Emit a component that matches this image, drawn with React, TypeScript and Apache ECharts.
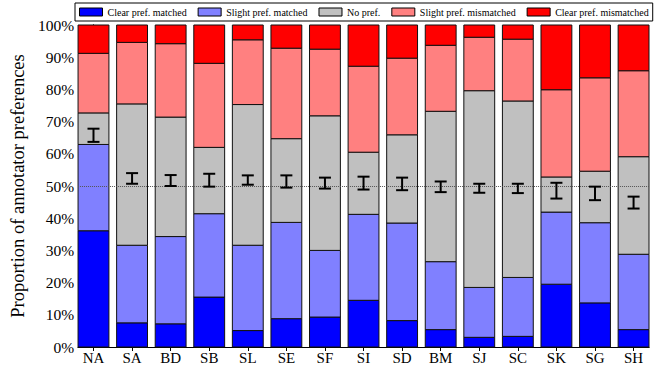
import React, { useEffect, useRef } from "react";
import * as echarts from "echarts";

const categories = ["NA", "SA", "BD", "SB", "SL", "SE", "SF", "SI", "SD", "BM", "SJ", "SC", "SK", "SG", "SH"];
const seriesNames = ["Clear pref. matched", "Slight pref. matched", "No pref.", "Slight pref. mismatched", "Clear pref. mismatched"];
const clearMatched = [36.1, 7.5, 7.2, 15.5, 5.1, 8.8, 9.3, 14.5, 8.2, 5.4, 3.0, 3.3, 19.5, 13.7, 5.4];
const slightMatched = [26.8, 24.1, 27.1, 25.9, 26.5, 29.9, 20.7, 26.7, 30.3, 21.1, 15.5, 18.3, 22.4, 24.9, 23.4];
const noPref = [9.8, 43.9, 37.1, 20.6, 43.7, 26.0, 41.8, 19.3, 27.4, 46.7, 61.1, 54.8, 10.9, 16.0, 30.3];
const slightMismatched = [18.5, 19.1, 22.8, 26.1, 20.1, 28.1, 20.7, 26.7, 23.8, 20.5, 16.6, 19.2, 27.1, 29.0, 26.7];
const clearMismatched = [8.8, 5.4, 5.8, 11.9, 4.6, 7.2, 7.5, 12.8, 10.3, 6.3, 3.8, 4.4, 20.1, 16.4, 14.2];
const errLow = [63.7, 50.7, 50.0, 49.8, 50.4, 49.5, 49.2, 48.9, 48.7, 48.1, 47.9, 47.8, 46.1, 45.6, 43.0];
const errHigh = [67.8, 54.0, 53.4, 53.8, 53.3, 53.3, 52.6, 52.9, 52.6, 51.4, 50.7, 50.7, 51.0, 49.8, 46.7];
const yTicks = [0, 10, 20, 30, 40, 50, 60, 70, 80, 90, 100];

const colors = ["#0000ff", "#8080ff", "#c0c0c0", "#ff8080", "#ff0000"];
const FONT = "Liberation Serif";

export default function App() {
  const ref = useRef<HTMLDivElement>(null);
  useEffect(() => {
    if (!ref.current) return;
    const chart = echarts.init(ref.current, null, { renderer: "svg" });
    const layers = [clearMatched, slightMatched, noPref, slightMismatched, clearMismatched];
    const cum = categories.map(() => 0);
    const barSeries = layers.map((vals, k) => {
      const data = vals.map((v, i) => {
        const s = cum[i];
        cum[i] = s + v;
        return [i, s, s + v];
      });
      return {
        name: seriesNames[k],
        type: "custom",
        z: 2,
        itemStyle: { color: colors[k] },
        encode: { x: 0, y: [1, 2] },
        data,
        renderItem: (params: any, api: any) => {
          const x = api.value(0);
          const p0 = api.coord([x - 0.4, api.value(1)]);
          const p1 = api.coord([x + 0.4, api.value(2)]);
          return {
            type: "rect",
            shape: { x: p0[0], y: p1[1], width: p1[0] - p0[0], height: p0[1] - p1[1] },
            style: { fill: colors[k], stroke: "#111", lineWidth: 1 },
          };
        },
      };
    });
    const errSeries = {
      name: "err",
      type: "custom",
      z: 5,
      encode: { x: 0, y: [1, 2] },
      data: categories.map((_, i) => [i, errLow[i], errHigh[i]]),
      renderItem: (params: any, api: any) => {
        const x = api.value(0);
        const lo = api.coord([x, api.value(1)]);
        const hi = api.coord([x, api.value(2)]);
        const w = 6;
        const st = { stroke: "#000", lineWidth: 2 };
        return {
          type: "group",
          children: [
            { type: "line", shape: { x1: lo[0], y1: lo[1], x2: hi[0], y2: hi[1] }, style: st },
            { type: "line", shape: { x1: lo[0] - w, y1: lo[1], x2: lo[0] + w, y2: lo[1] }, style: st },
            { type: "line", shape: { x1: hi[0] - w, y1: hi[1], x2: hi[0] + w, y2: hi[1] }, style: st },
          ],
        };
      },
      markLine: {
        silent: true,
        symbol: "none",
        label: { show: false },
        lineStyle: { type: "dotted", color: "#555", width: 1 },
        data: [{ yAxis: 50 }],
      },
    };
    const idx = categories.map((_, i) => i);
    chart.setOption({
      animation: false,
      textStyle: { fontFamily: FONT },
      legend: {
        data: seriesNames,
        left: 75,
        top: 3,
        icon: "rect",
        itemWidth: 23,
        itemHeight: 8,
        itemGap: 11,
        padding: [4, 4],
        borderColor: "#000",
        borderWidth: 1,
        itemStyle: { borderColor: "#000", borderWidth: 1 },
        textStyle: { fontFamily: FONT, fontSize: 10, color: "#000" },
      },
      grid: { left: 72, right: 5, top: 25, bottom: 17 },
      xAxis: [
        {
          type: "value",
          min: -0.4,
          max: 14.4,
          splitLine: { show: false },
          axisLine: { lineStyle: { color: "#000", width: 1 } },
          axisTick: { inside: true, length: 4, customValues: idx, lineStyle: { color: "#000" } },
          axisLabel: {
            customValues: idx,
            formatter: (v: number) => categories[Math.round(v)],
            fontFamily: FONT,
            fontSize: 15,
            color: "#000",
            margin: 3,
          },
        },
        {
          type: "value",
          position: "top",
          min: -0.4,
          max: 14.4,
          splitLine: { show: false },
          axisLine: { lineStyle: { color: "#000", width: 1 } },
          axisTick: { inside: true, length: 4, customValues: idx, lineStyle: { color: "#000" } },
          axisLabel: { show: false },
        },
      ],
      yAxis: [
        {
          type: "value",
          min: 0,
          max: 100,
          interval: 10,
          name: "Proportion of annotator preferences",
          nameLocation: "middle",
          nameGap: 41,
          nameTextStyle: { fontFamily: FONT, fontSize: 18.5, color: "#000" },
          splitLine: { show: false },
          axisLine: { show: true, lineStyle: { color: "#000", width: 1 } },
          axisTick: { show: true, inside: true, length: 4, lineStyle: { color: "#000" } },
          axisLabel: {
            formatter: (v: number) => (yTicks.includes(v) ? v + "%" : ""),
            fontFamily: FONT,
            fontSize: 15.5,
            color: "#000",
            margin: 4,
          },
        },
        {
          type: "value",
          position: "right",
          min: 0,
          max: 100,
          interval: 10,
          splitLine: { show: false },
          axisLine: { show: true, lineStyle: { color: "#000", width: 1 } },
          axisTick: { show: true, inside: true, length: 4, lineStyle: { color: "#000" } },
          axisLabel: { show: false },
        },
      ],
      series: [...barSeries, errSeries],
    });
    return () => chart.dispose();
  }, []);
  return <div ref={ref} style={{ position: "absolute", left: 0, top: 0, width: 654, height: 365 }} />;
}
